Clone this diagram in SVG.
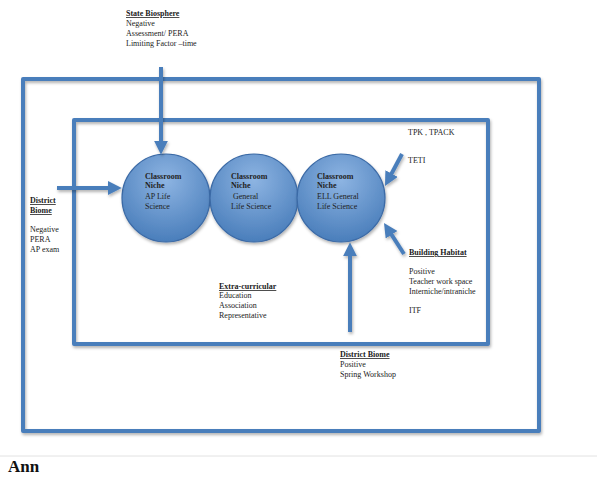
<svg xmlns="http://www.w3.org/2000/svg" width="597" height="477" viewBox="0 0 597 477">
<style>
.frame{fill:none;stroke:#4a7ebb;stroke-width:4;stroke-linejoin:round}
.arrow{fill:none;stroke:#4a7ebb;stroke-width:4}
.t{font-family:"Liberation Serif","Times New Roman",serif;font-size:8px;fill:#222}
.b{font-weight:bold}
.u{text-decoration:underline}
.circ{fill:url(#cg);stroke:#3b6aa6;stroke-width:1.2}
</style>
<defs>
<radialGradient id="cg" cx="50%" cy="30%" r="70%">
<stop offset="0" stop-color="#8db4e2"/>
<stop offset="1" stop-color="#4a7ebb"/>
</radialGradient>
<filter id="sh" x="-20%" y="-20%" width="140%" height="140%">
<feDropShadow dx="1" dy="2" stdDeviation="1.5" flood-color="#000" flood-opacity="0.3"/>
</filter>
<marker id="ah" viewBox="0 0 10 10" refX="3" refY="5" markerWidth="3.5" markerHeight="3.5" orient="auto">
<path d="M0,0 L10,5 L0,10 z" fill="#4a7ebb"/>
</marker>
</defs>
<rect width="597" height="477" fill="#fff"/>
<g id="frames" filter="url(#sh)">
<rect class="frame" x="23" y="79" width="516" height="352"/>
<rect class="frame" x="74" y="120" width="414" height="224"/>
</g>
<g id="niche1" filter="url(#sh)">
<circle class="circ" cx="166" cy="198" r="44"/>
</g>
<g id="niche2" filter="url(#sh)">
<circle class="circ" cx="254" cy="198" r="44"/>
</g>
<g id="niche3" filter="url(#sh)">
<circle class="circ" cx="341" cy="198" r="44"/>
</g>
<g id="niche-text">
<text class="t" x="145" y="179"><tspan class="b">Classroom</tspan><tspan class="b" x="145" y="188">Niche</tspan><tspan x="145" y="199">AP Life</tspan><tspan x="145" y="209">Science</tspan></text>
<text class="t" x="231" y="179"><tspan class="b">Classroom</tspan><tspan class="b" x="231" y="188">Niche</tspan><tspan x="233" y="199">General</tspan><tspan x="231" y="209">Life Science</tspan></text>
<text class="t" x="317" y="179"><tspan class="b">Classroom</tspan><tspan class="b" x="317" y="188">Niche</tspan><tspan x="317" y="199">ELL General</tspan><tspan x="317" y="209">Life Science</tspan></text>
</g>
<g id="connectors" filter="url(#sh)">
<line class="arrow" x1="161" y1="67" x2="161" y2="145" marker-end="url(#ah)"/>
<line class="arrow" x1="57" y1="188" x2="112" y2="188" marker-end="url(#ah)"/>
<line class="arrow" x1="402" y1="154" x2="389.6" y2="177.3" marker-end="url(#ah)"/>
<line class="arrow" x1="404" y1="254" x2="389.3" y2="231.2" marker-end="url(#ah)"/>
<line class="arrow" x1="350" y1="332" x2="350" y2="252" marker-end="url(#ah)"/>
</g>
<g id="state-biosphere">
<text class="t" x="126" y="16"><tspan class="b u">State Biosphere</tspan><tspan x="126" y="26">Negative</tspan><tspan x="126" y="36">Assessment/ PERA</tspan><tspan x="126" y="46">Limiting Factor –time</tspan></text>
</g>
<g id="district-biome-left">
<text class="t" x="30" y="203"><tspan class="b u">District</tspan><tspan class="b u" x="30" y="213">Biome</tspan><tspan x="30" y="232">Negative</tspan><tspan x="30" y="242">PERA</tspan><tspan x="30" y="252">AP exam</tspan></text>
</g>
<g id="tpack">
<text class="t" x="408" y="135">TPK , TPACK</text>
<text class="t" x="408" y="163">TETI</text>
</g>
<g id="building-habitat">
<text class="t" x="409" y="255"><tspan class="b u">Building Habitat</tspan><tspan x="409" y="274">Positive</tspan><tspan x="409" y="284">Teacher work space</tspan><tspan x="409" y="294">Interniche/intraniche</tspan><tspan x="409" y="313">ITF</tspan></text>
</g>
<g id="extra-curricular">
<text class="t" x="219" y="289"><tspan class="b u">Extra-curricular</tspan><tspan x="219" y="298">Education</tspan><tspan x="219" y="308">Association</tspan><tspan x="219" y="318">Representative</tspan></text>
</g>
<g id="district-biome-bottom">
<text class="t" x="340" y="357"><tspan class="b u">District Biome</tspan><tspan x="340" y="367">Positive</tspan><tspan x="340" y="377">Spring Workshop</tspan></text>
</g>
<line x1="0" y1="456" x2="597" y2="456" stroke="#e2e2e2" stroke-width="1"/>
<text x="8" y="472" font-family="Liberation Serif, serif" font-size="17" font-weight="bold" fill="#111">Ann</text>
</svg>
